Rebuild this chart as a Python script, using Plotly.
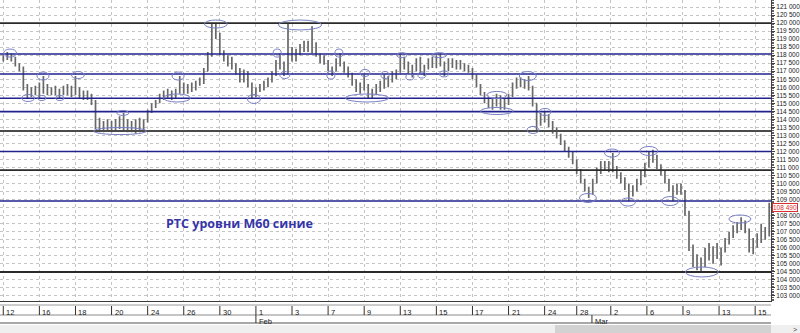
import plotly.graph_objects as go

# ---- price bars (thousands of points), RTS futures, ~2 bars per 8 px of the original chart ----
opens = [117.7,117.9,117.8,117.7,117.4,117.2,116.0,115.6,115.8,
         115.7,116.1,115.9,115.7,115.9,115.6,115.8,115.7,116.0,
         115.6,115.9,115.5,115.6,115.4,115.1,113.7,113.5,113.7,
         113.4,113.6,113.8,113.6,113.5,113.7,113.4,113.8,113.5,
         113.9,114.5,114.9,115.1,115.5,115.4,115.7,115.5,115.8,
         116.0,115.8,116.1,115.9,116.3,116.4,117.0,118.0,119.6,
         119.2,118.2,117.8,117.6,117.3,117.0,116.5,116.9,116.2,
         115.6,115.9,116.0,116.3,116.5,116.9,117.5,117.3,117.1,
         118.2,117.9,118.2,118.5,118.7,118.4,118.6,118.0,117.8,
         117.6,117.2,117.0,117.6,117.5,117.1,116.8,116.3,115.9,
         116.1,116.0,115.5,115.7,116.0,116.2,116.4,116.6,116.8,
         117.0,117.6,117.3,117.0,117.2,117.5,117.1,117.3,117.6,
         117.4,117.8,117.5,117.1,117.6,117.4,117.5,117.3,117.2,
         117.0,116.7,116.1,115.6,115.2,114.9,115.1,115.3,114.9,
         115.1,115.5,116.1,116.4,116.2,116.3,116.0,115.0,113.9,
         114.2,114.0,113.7,113.3,112.9,112.6,112.2,111.8,111.4,
         110.8,110.2,109.7,109.4,110.1,110.8,111.1,111.0,111.2,
         111.0,110.5,110.2,109.8,109.3,109.7,110.1,110.6,111.1,
         111.7,111.5,111.0,110.7,110.2,109.7,109.4,109.8,109.5,
         108.2,106.1,105.2,104.9,105.1,105.6,105.5,105.8,105.5,
         105.8,106.4,106.8,107.2,107.4,107.5,107.1,105.9,106.4,106.6,107.0,106.8]
highs = [118.0,118.2,118.1,117.9,117.5,117.3,116.2,116.0,116.1,
         116.3,116.7,116.2,116.0,116.1,115.9,116.1,116.2,116.1,
         116.7,116.0,115.8,115.8,115.6,115.2,114.1,113.9,114.0,
         113.9,114.0,114.2,114.4,114.0,113.9,114.0,114.1,114.0,
         114.6,115.0,115.2,115.6,115.8,115.9,115.8,115.9,116.7,
         116.3,116.2,116.3,116.4,116.6,117.2,118.2,120.0,120.0,
         119.4,118.3,118.0,117.9,117.5,117.2,117.1,117.0,116.3,
         116.0,116.2,116.4,116.6,117.0,117.7,118.1,117.6,120.0,
         118.5,118.4,118.7,118.9,118.9,119.8,118.8,118.1,118.0,
         117.7,117.3,117.8,118.1,117.6,117.3,116.9,116.5,116.3,
         116.8,116.2,115.9,116.2,116.4,116.8,116.7,117.0,117.1,
         118.1,117.9,117.6,117.4,117.8,117.9,117.4,117.8,117.9,
         118.0,118.1,117.6,117.8,117.8,117.7,117.7,117.5,117.4,
         117.2,116.8,116.2,115.7,115.4,115.3,115.6,115.5,115.3,
         115.6,116.3,116.6,116.6,116.5,116.7,116.1,115.0,114.4,
         114.5,114.3,113.9,113.5,113.1,112.7,112.3,112.0,111.5,
         110.9,110.3,109.8,110.3,111.0,111.4,111.4,111.4,111.9,
         111.1,110.7,110.4,110.0,109.9,110.3,110.8,111.3,112.0,
         112.1,111.8,111.2,110.8,110.3,109.9,110.0,110.0,109.6,
         108.3,106.2,105.6,105.4,106.0,106.3,106.1,106.3,106.0,
         106.6,107.0,107.4,107.6,107.9,107.7,107.2,106.6,106.9,107.5,107.3,108.8]
lows = [117.6,117.7,117.6,117.3,117.0,115.8,115.3,115.4,115.5,
        115.3,115.6,115.5,115.5,115.5,115.3,115.5,115.5,115.4,
        115.5,115.3,115.2,115.2,114.9,113.4,113.2,113.2,113.3,
        113.2,113.3,113.4,113.3,113.2,113.2,113.1,113.2,113.3,
        113.8,114.4,114.7,115.0,115.2,115.3,115.2,115.3,115.6,
        115.6,115.6,115.7,115.8,116.1,116.2,117.0,117.9,119.0,
        118.0,117.6,117.3,117.1,116.8,116.3,116.3,116.0,115.3,
        115.4,115.7,115.8,116.0,116.3,116.7,117.1,116.7,116.8,
        117.6,117.6,118.0,118.2,118.2,118.1,117.9,117.5,117.4,
        117.0,116.7,117.0,117.3,116.9,116.6,116.1,115.7,115.6,
        115.8,115.3,115.3,115.5,115.7,115.9,116.0,116.3,116.5,
        116.9,117.1,116.8,116.6,117.0,116.9,116.7,117.1,117.2,
        117.2,117.3,116.7,117.0,117.2,117.1,117.1,117.0,116.9,
        116.5,116.0,115.5,115.0,114.7,114.6,114.8,114.6,114.6,
        114.9,115.4,115.9,116.0,115.9,115.8,114.8,113.3,113.6,
        113.8,113.5,113.1,112.8,112.4,112.0,111.6,111.2,110.6,
        110.0,109.5,109.1,109.3,110.0,110.6,110.8,110.7,110.7,
        110.3,110.0,109.6,108.9,109.2,109.5,109.9,110.4,111.0,
        111.3,110.9,110.5,110.0,109.5,108.9,109.3,109.3,108.0,
        105.8,104.8,104.6,104.5,104.8,105.2,105.0,105.3,104.9,
        105.7,106.2,106.6,106.9,107.1,106.9,105.7,105.6,106.0,106.3,106.5,106.7]
closes = [117.9,117.8,117.7,117.4,117.2,116.0,115.6,115.8,115.7,
          116.1,115.9,115.7,115.9,115.6,115.8,115.7,116.0,115.6,
          115.9,115.5,115.6,115.4,115.1,113.7,113.5,113.7,113.4,
          113.6,113.8,113.6,113.5,113.7,113.4,113.8,113.5,113.9,
          114.5,114.9,115.1,115.5,115.4,115.7,115.5,115.8,116.0,
          115.8,116.1,115.9,116.3,116.4,117.0,118.0,119.6,119.2,
          118.2,117.8,117.6,117.3,117.0,116.5,116.9,116.2,115.6,
          115.9,116.0,116.3,116.5,116.9,117.5,117.3,117.1,118.2,
          117.9,118.2,118.5,118.7,118.4,118.6,118.0,117.8,117.6,
          117.2,117.0,117.6,117.5,117.1,116.8,116.3,115.9,116.1,
          116.0,115.5,115.7,116.0,116.2,116.4,116.6,116.8,117.0,
          117.6,117.3,117.0,117.2,117.5,117.1,117.3,117.6,117.4,
          117.8,117.5,117.1,117.6,117.4,117.5,117.3,117.2,117.0,
          116.7,116.1,115.6,115.2,114.9,115.1,115.3,114.9,115.1,
          115.5,116.1,116.4,116.2,116.3,116.0,115.0,113.9,114.2,
          114.0,113.7,113.3,112.9,112.6,112.2,111.8,111.4,110.8,
          110.2,109.7,109.4,110.1,110.8,111.1,111.0,111.2,111.0,
          110.5,110.2,109.8,109.3,109.7,110.1,110.6,111.1,111.7,
          111.5,111.0,110.7,110.2,109.7,109.4,109.8,109.5,108.2,
          106.1,105.2,104.9,105.1,105.6,105.5,105.8,105.5,105.8,
          106.4,106.8,107.2,107.4,107.5,107.1,105.9,106.4,106.6,107.0,106.8,108.49]

# ---- x axis labels (bar index where each day label starts) ----
day_tick_pos = [0, 9, 18, 27, 36, 45, 54, 63, 72, 81, 90, 99, 108, 117, 126, 135,
                143, 151.5, 160.5, 169.5, 178.5, 187.5]
day_tick_text = ["12", "16", "18", "20", "24", "26", "30", "1", "3", "7", "9", "13",
                 "15", "17", "21", "24", "28", "2", "6", "9", "13", "15"]
month_pos = [63, 146.8]
month_text = ["Feb", "Mar"]

# ---- y axis ticks ----
y_tick_vals = list(range(103000, 121001, 500))

# ---- horizontal levels (thousands) ----
level_prices = [120.0, 118.07, 116.83, 115.31, 114.48, 113.27, 112.0, 110.84, 108.91, 104.49]
level_kind = ["black", "blue", "blue", "blue", "blue", "grey", "blue", "black", "blue", "black"]

# ---- marked extremes: (bar index, price, width in bars, height in thousands) ----
ell_bar = [1.7, 6.2, 9.9, 9.6, 14.1, 18.6, 29.8, 29.1, 53.0, 43.3, 43.6, 62.5, 68.3, 70.2,
           74.0, 81.7, 83.7, 90.2, 90.7, 95.2, 99.4, 101.4, 104.4, 108.7, 109.9, 123.1,
           123.1, 130.8, 135.1, 132.1, 145.8, 151.8, 155.8, 161.0, 166.3, 174.2, 183.7]
ell_price = [118.13, 115.33, 116.70, 115.33, 115.33, 116.76, 114.40, 113.27, 119.94, 115.33,
             116.70, 115.27, 118.13, 116.76, 119.88, 116.76, 118.13, 116.89, 115.33, 116.76,
             118.0, 116.64, 116.76, 118.0, 116.83, 115.52, 114.52, 116.70, 114.46, 113.34,
             109.10, 111.90, 108.85, 112.03, 108.91, 104.49, 107.79]
ell_w = [3.2, 3.2, 3.0, 2.0, 2.0, 3.2, 3.0, 13.2, 5.7, 6.7, 3.0, 3.2, 2.0, 2.5,
         10.7, 2.0, 2.0, 2.5, 10.7, 2.0, 2.5, 2.0, 2.0, 3.7, 2.2, 5.0,
         8.2, 4.2, 3.0, 3.0, 4.2, 3.7, 3.7, 4.5, 4.2, 8.2, 5.5]
ell_h = [0.50, 0.44, 0.50, 0.31, 0.31, 0.44, 0.31, 0.44, 0.50, 0.50, 0.50, 0.56, 0.50, 0.44,
         0.62, 0.50, 0.50, 0.44, 0.50, 0.44, 0.31, 0.37, 0.37, 0.31, 0.37, 0.44,
         0.44, 0.56, 0.44, 0.44, 0.56, 0.50, 0.50, 0.56, 0.56, 0.62, 0.50]

title_text = "РТС уровни М60 синие"
title_bar, title_price = 59.0, 107.48

K = 1000
x_idx = list(range(len(closes)))
BAR = "#686868"


def fmt(v):
    return "{:,.0f}".format(v).replace(",", " ")


fig = go.Figure(go.Ohlc(
    x=x_idx,
    open=[v * K for v in opens], high=[v * K for v in highs],
    low=[v * K for v in lows], close=[v * K for v in closes],
    increasing=dict(line=dict(color=BAR, width=1.7)),
    decreasing=dict(line=dict(color=BAR, width=1.7)),
    tickwidth=0.2, hoverinfo="skip", showlegend=False,
))

PLOT_H = 301.0  # plot-area height in px (for paper coordinates below the plot)


def py(px):
    return (PLOT_H - px) / PLOT_H


shapes = []
level_style = {"black": ("#2a2a2a", 1.8), "blue": ("#22228f", 1.6), "grey": ("#4a4a4a", 2.0)}
for p, k in zip(level_prices, level_kind):
    c, w = level_style[k]
    shapes.append(dict(type="line", xref="paper", x0=0, x1=1, yref="y", y0=p * K, y1=p * K,
                       line=dict(color=c, width=w), layer="above"))
for b, p, w, h in zip(ell_bar, ell_price, ell_w, ell_h):
    shapes.append(dict(type="circle", xref="x", yref="y", x0=b - w / 2, x1=b + w / 2,
                       y0=(p - h / 2) * K, y1=(p + h / 2) * K,
                       line=dict(color="#7880c4", width=1), layer="above"))

# bottom date strip
shapes.append(dict(type="line", xref="paper", x0=0, x1=1, yref="paper", y0=py(305), y1=py(305),
                   line=dict(color="#9a9a9a", width=1)))
shapes.append(dict(type="line", xref="paper", x0=0, x1=1, yref="paper", y0=py(315), y1=py(315),
                   line=dict(color="#8a8a8a", width=1)))
shapes.append(dict(type="line", xref="paper", x0=0, x1=1, yref="paper", y0=py(323), y1=py(323),
                   line=dict(color="#505050", width=1)))
for t in day_tick_pos:
    shapes.append(dict(type="line", xref="x", x0=t, x1=t, yref="paper", y0=py(306), y1=py(315),
                       line=dict(color="#303030", width=1)))
for t in month_pos:
    shapes.append(dict(type="line", xref="x", x0=t, x1=t, yref="paper", y0=py(315), y1=py(323),
                       line=dict(color="#303030", width=1)))
# scrollbar
shapes.append(dict(type="rect", xref="paper", x0=0, x1=800 / 771, yref="paper", y0=py(333), y1=py(325),
                   fillcolor="#efefef", line=dict(width=0), layer="below"))
shapes.append(dict(type="rect", xref="paper", x0=555 / 771, x1=1.0, yref="paper", y0=py(333), y1=py(325),
                   fillcolor="#d2d2d2", line=dict(width=0), layer="below"))

ann = []
for t, s in zip(day_tick_pos, day_tick_text):
    ann.append(dict(x=t, xref="x", y=0, yref="paper", text=s, showarrow=False,
                    xanchor="left", yanchor="top", xshift=1, yshift=-5,
                    font=dict(family="Liberation Sans, Arial", size=7.5, color="#202020")))
for t, s in zip(month_pos, month_text):
    ann.append(dict(x=t, xref="x", y=0, yref="paper", text=s, showarrow=False,
                    xanchor="left", yanchor="top", xshift=1, yshift=-14,
                    font=dict(family="Liberation Sans, Arial", size=7.5, color="#202020")))
ann.append(dict(x=title_bar, xref="x", y=title_price * K, yref="y", text="<b>" + title_text + "</b>",
                showarrow=False, xanchor="center", yanchor="middle",
                font=dict(family="Open Sans, Noto Sans", size=12.5, color="#3535a8")))
last = closes[-1] * K
ann.append(dict(x=1, xref="paper", y=last, yref="y",
                text=fmt(last), showarrow=False,
                xanchor="left", yanchor="middle", xshift=1,
                bordercolor="#d83030", borderwidth=1, borderpad=0, bgcolor="white",
                font=dict(family="Liberation Sans, Arial", size=6.5, color="#d83030")))
ann.append(dict(x=795 / 771, xref="paper", y=py(329), yref="paper", text="&gt;", showarrow=False,
                xanchor="center", yanchor="middle",
                font=dict(family="Liberation Sans, Arial", size=7, color="#404040")))

# the current-price marker covers the nearest tick label, as in the terminal
hidden = min(y_tick_vals, key=lambda v: abs(v - last))
y_tick_text = ["" if v == hidden else fmt(v) for v in y_tick_vals]

fig.update_layout(
    width=800, height=333, margin=dict(l=0, r=29, t=0, b=32),
    plot_bgcolor="white", paper_bgcolor="white",
    showlegend=False, shapes=shapes, annotations=ann,
)
fig.update_xaxes(
    range=[-0.82, 191.45], tickvals=day_tick_pos, showticklabels=False, ticks="",
    showgrid=True, gridcolor="#c4c4c4", griddash="dot", gridwidth=1,
    zeroline=False, showline=True, linecolor="#3a3a3a", linewidth=1,
    rangeslider=dict(visible=False),
)
fig.update_yaxes(
    side="right", range=[102682, 121436],
    tickvals=y_tick_vals, ticktext=y_tick_text,
    ticks="outside", ticklen=3, tickcolor="#404040",
    tickfont=dict(family="Liberation Sans, Arial", size=6.5, color="#202020"),
    showgrid=True, gridcolor="#c4c4c4", griddash="dot", gridwidth=1,
    showline=True, linecolor="#404040", zeroline=False,
    minor=dict(dtick=100, tick0=0, ticks="outside", ticklen=2, tickcolor="#606060", showgrid=False),
)

fig.write_html("out.html")
